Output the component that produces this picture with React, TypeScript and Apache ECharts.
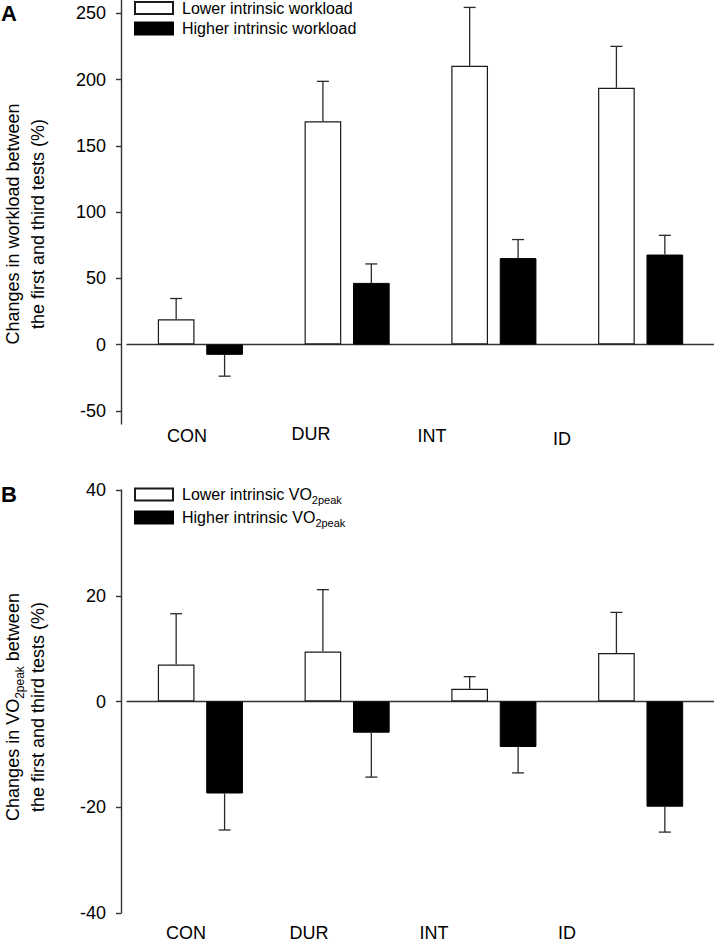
import React, { useEffect, useRef } from "react";
import * as echarts from "echarts";

const categories = ["CON", "DUR", "INT", "ID"];

const workloadLower = [19.1, 168.4, 210.4, 193.8];
const workloadLowerErr = [15.6, 30.2, 44.0, 31.2];
const workloadHigher = [-7.8, 46.5, 65.2, 67.9];
const workloadHigherErr = [16.1, 14.3, 14.0, 14.5];

const vo2Lower = [7.0, 9.45, 2.4, 9.15];
const vo2LowerErr = [9.6, 11.7, 2.3, 7.7];
const vo2Higher = [-17.4, -5.9, -8.6, -19.9];
const vo2HigherErr = [6.9, 8.4, 4.9, 4.8];

const workloadTicks = [-50, 0, 50, 100, 150, 200, 250];

const seriesNames = {
  wLow: "Lower intrinsic workload",
  wHigh: "Higher intrinsic workload",
  vLow: "Lower intrinsic VO2peak",
  vHigh: "Higher intrinsic VO2peak",
};

const FONT = "'Liberation Sans', Arial, Helvetica, sans-serif";

function errRender(offsetFrac: number) {
  return function (params: any, api: any) {
    const idx = api.value(0);
    const v = api.value(1);
    const e = api.value(2);
    const band = api.size([1, 0])[0];
    const x = api.coord([idx, 0])[0] + offsetFrac * band;
    const end = v >= 0 ? v + e : v - e;
    const y0 = api.coord([idx, v])[1];
    const y1 = api.coord([idx, end])[1];
    const st = { stroke: "#2a2a2a", lineWidth: 1.3 };
    return {
      type: "group",
      children: [
        { type: "line", shape: { x1: x, y1: y0, x2: x, y2: y1 }, style: st },
        { type: "line", shape: { x1: x - 6, y1: y1, x2: x + 6, y2: y1 }, style: st },
      ],
    };
  };
}

function errData(vals: number[], errs: number[]) {
  return vals.map((v, i) => [i, v, errs[i]]);
}

export default function App() {
  const ref = useRef<HTMLDivElement>(null);
  useEffect(() => {
    if (!ref.current) return;
    const chart = echarts.init(ref.current, null, { renderer: "svg" });
    const whiteStyle = { color: "#ffffff", borderColor: "#1a1a1a", borderWidth: 1.2 };
    const blackStyle = { color: "#000000", borderColor: "#000000", borderWidth: 1 };
    const axisLineStyle = { color: "#333", width: 1.4 };

    const xLabelsA = [
      { t: categories[0], x: 187, y: 436 },
      { t: categories[1], x: 311, y: 434 },
      { t: categories[2], x: 432, y: 436 },
      { t: categories[3], x: 562, y: 439 },
    ];
    const xLabelsB = [
      { t: categories[0], x: 186, y: 933 },
      { t: categories[1], x: 309, y: 933 },
      { t: categories[2], x: 434, y: 933 },
      { t: categories[3], x: 567, y: 933 },
    ];
    const xLabelStyle = (t: string) => ({
      text: t,
      fontSize: 18,
      fontFamily: FONT,
      fill: "#000",
      align: "center",
      verticalAlign: "middle",
    });

    const legendFormatter = (name: string) => {
      if (name.endsWith("VO2peak")) {
        return `{n|${name.slice(0, -5)}}{s|2peak}`;
      }
      return name;
    };

    const option: any = {
      animation: false,
      backgroundColor: "#ffffff",
      grid: [
        { left: 127, right: 0, top: 0, height: 424 },
        { left: 127, right: 0, top: 490, height: 423 },
      ],
      xAxis: [
        {
          type: "category",
          gridIndex: 0,
          data: categories,
          axisLine: { onZero: true, lineStyle: axisLineStyle },
          axisTick: { show: false },
          axisLabel: { show: false },
        },
        {
          type: "category",
          gridIndex: 1,
          data: categories,
          axisLine: { onZero: true, lineStyle: axisLineStyle },
          axisTick: { show: false },
          axisLabel: { show: false },
        },
      ],
      yAxis: [
        {
          type: "value",
          gridIndex: 0,
          min: -60,
          max: 260,
          offset: 6,
          splitLine: { show: false },
          axisLine: { show: true, lineStyle: axisLineStyle },
          axisTick: { show: true, length: 5, customValues: workloadTicks, lineStyle: axisLineStyle },
          axisLabel: {
            customValues: workloadTicks,
            margin: 15,
            fontSize: 18,
            fontFamily: FONT,
            color: "#000",
          },
        },
        {
          type: "value",
          gridIndex: 1,
          min: -40,
          max: 40,
          interval: 20,
          offset: 6,
          splitLine: { show: false },
          axisLine: { show: true, lineStyle: axisLineStyle },
          axisTick: { show: true, length: 5, lineStyle: axisLineStyle },
          axisLabel: {
            margin: 15,
            fontSize: 18,
            fontFamily: FONT,
            color: "#000",
            showMinLabel: true,
            showMaxLabel: true,
          },
        },
      ],
      legend: [
        {
          orient: "vertical",
          left: 134,
          top: 0,
          padding: 0,
          itemWidth: 38,
          itemHeight: 12,
          itemGap: 4.5,
          icon: "rect",
          selectedMode: false,
          data: [seriesNames.wLow, seriesNames.wHigh],
          textStyle: { fontSize: 16, fontFamily: FONT, color: "#000", lineHeight: 16, padding: [0, 0, 0, 4] },
        },
        {
          orient: "vertical",
          left: 134,
          top: 486.5,
          padding: 0,
          itemWidth: 38,
          itemHeight: 12,
          itemGap: 4,
          icon: "rect",
          selectedMode: false,
          data: [seriesNames.vLow, seriesNames.vHigh],
          formatter: legendFormatter,
          textStyle: {
            fontSize: 16,
            fontFamily: FONT,
            color: "#000",
            padding: [0, 0, 0, 4],
            rich: {
              n: { fontSize: 16, fontFamily: FONT, color: "#000", lineHeight: 22, verticalAlign: "middle" },
              s: { fontSize: 11, fontFamily: FONT, color: "#000", lineHeight: 11, verticalAlign: "bottom" },
            },
          },
        },
      ],
      series: [
        {
          type: "bar",
          name: seriesNames.wLow,
          xAxisIndex: 0,
          yAxisIndex: 0,
          data: workloadLower,
          barWidth: "25%",
          barGap: "32%",
          itemStyle: whiteStyle,
        },
        {
          type: "bar",
          name: seriesNames.wHigh,
          xAxisIndex: 0,
          yAxisIndex: 0,
          data: workloadHigher,
          barWidth: "25%",
          barGap: "32%",
          itemStyle: blackStyle,
        },
        {
          type: "custom",
          xAxisIndex: 0,
          yAxisIndex: 0,
          clip: false,
          z: 5,
          renderItem: errRender(-0.165),
          encode: { x: 0, y: 1 },
          data: errData(workloadLower, workloadLowerErr),
        },
        {
          type: "custom",
          xAxisIndex: 0,
          yAxisIndex: 0,
          clip: false,
          z: 5,
          renderItem: errRender(0.165),
          encode: { x: 0, y: 1 },
          data: errData(workloadHigher, workloadHigherErr),
        },
        {
          type: "bar",
          name: seriesNames.vLow,
          xAxisIndex: 1,
          yAxisIndex: 1,
          data: vo2Lower,
          barWidth: "25%",
          barGap: "32%",
          itemStyle: whiteStyle,
        },
        {
          type: "bar",
          name: seriesNames.vHigh,
          xAxisIndex: 1,
          yAxisIndex: 1,
          data: vo2Higher,
          barWidth: "25%",
          barGap: "32%",
          itemStyle: blackStyle,
        },
        {
          type: "custom",
          xAxisIndex: 1,
          yAxisIndex: 1,
          clip: false,
          z: 5,
          renderItem: errRender(-0.165),
          encode: { x: 0, y: 1 },
          data: errData(vo2Lower, vo2LowerErr),
        },
        {
          type: "custom",
          xAxisIndex: 1,
          yAxisIndex: 1,
          clip: false,
          z: 5,
          renderItem: errRender(0.165),
          encode: { x: 0, y: 1 },
          data: errData(vo2Higher, vo2HigherErr),
        },
      ],
      graphic: [
        {
          type: "text",
          left: 1,
          top: 2,
          style: { text: "A", fontSize: 22, fontWeight: "bold", fontFamily: FONT, fill: "#000" },
        },
        {
          type: "text",
          left: 1,
          top: 483,
          style: { text: "B", fontSize: 22, fontWeight: "bold", fontFamily: FONT, fill: "#000" },
        },
        {
          type: "text",
          x: 25.5,
          y: 224,
          rotation: Math.PI / 2,
          style: {
            text: "Changes in workload between\nthe first and third tests (%)",
            fontSize: 18,
            lineHeight: 25,
            fontFamily: FONT,
            fill: "#000",
            align: "center",
            verticalAlign: "middle",
          },
        },
        {
          type: "text",
          x: 25.5,
          y: 707,
          rotation: Math.PI / 2,
          style: {
            text: "{n|Changes in VO}{s|2peak}{n| between}\n{n|the first and third tests (%)}",
            fontSize: 18,
            lineHeight: 25,
            fontFamily: FONT,
            fill: "#000",
            align: "center",
            verticalAlign: "middle",
            rich: {
              n: { fontSize: 18, fontFamily: FONT, fill: "#000", lineHeight: 25, verticalAlign: "middle" },
              s: { fontSize: 12, fontFamily: FONT, fill: "#000", lineHeight: 12, verticalAlign: "bottom" },
            },
          },
        },
        ...xLabelsA.map((l) => ({ type: "text", x: l.x, y: l.y, style: xLabelStyle(l.t) })),
        ...xLabelsB.map((l) => ({ type: "text", x: l.x, y: l.y, style: xLabelStyle(l.t) })),
      ],
    };
    chart.setOption(option);
    return () => chart.dispose();
  }, []);
  return (
    <div
      ref={ref}
      style={{ position: "absolute", left: 0, top: 0, width: 714, height: 944, background: "#fff" }}
    />
  );
}
